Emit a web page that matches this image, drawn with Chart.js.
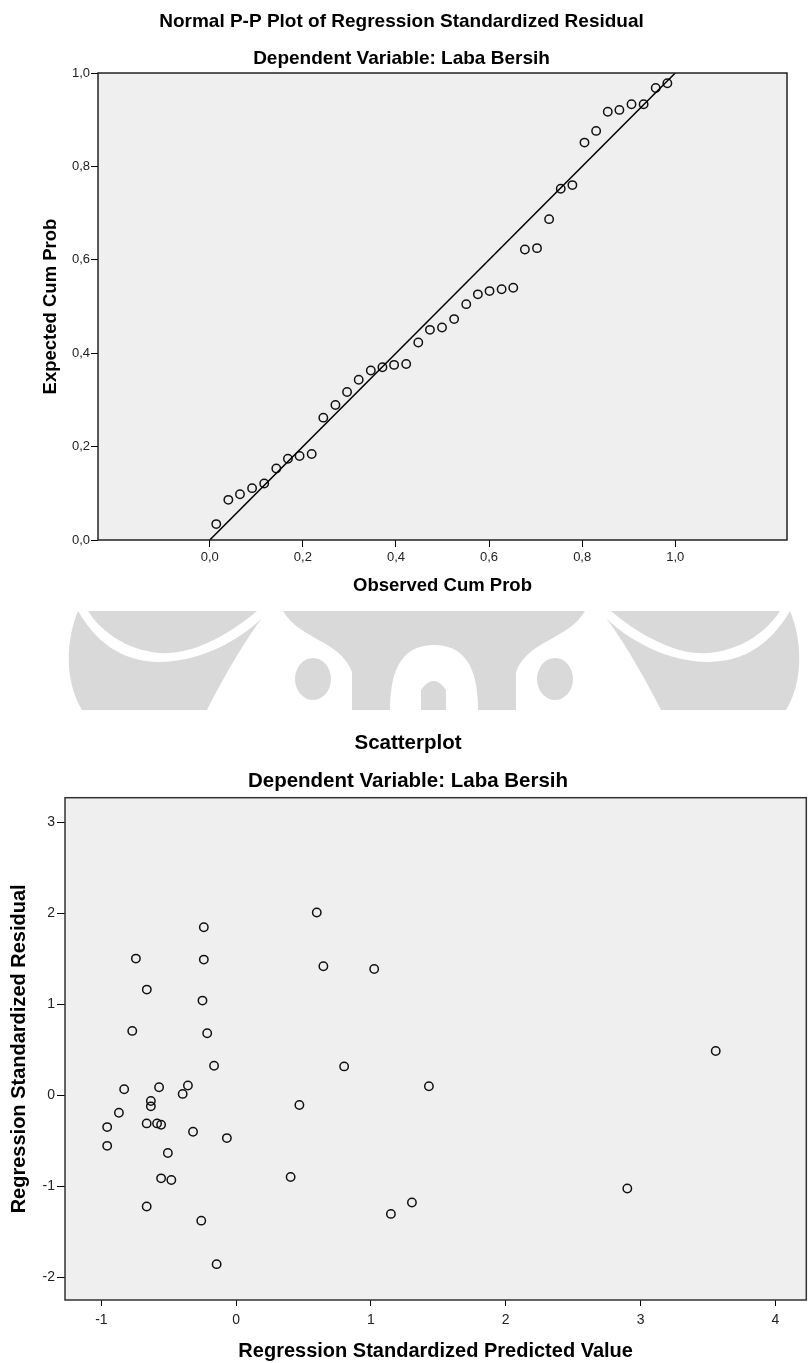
<!DOCTYPE html>
<html lang="id">
<head>
  <meta charset="UTF-8" />
  <meta name="viewport" content="width=device-width, initial-scale=1.0" />
  <title>Normal P-P Plot dan Scatterplot - Laba Bersih</title>
  <script src="https://cdn.jsdelivr.net/npm/chart.js@4.4.0/dist/chart.umd.min.js"></script>
  <style>
    html, body { margin: 0; padding: 0; background: #fff; overflow: hidden; }
    #page { position: relative; width: 809px; height: 1363px; }
    #watermark { position: absolute; left: 0; top: 0; }
    #ppChart { position: absolute; left: 0; top: 0; }
    #scatterChart { position: absolute; left: 0; top: 715px; }
  </style>
</head>

<body>
  <div id="page">
    <!-- faded logo between the two charts -->
    <svg id="watermark" width="809" height="1363">
      <path fill="#d9d9d9" d="M78,611 C66,640 64,680 82,710 L786,710 C804,680 802,640 790,611 Z" />
      <g id="wmHalf">
        <path fill="#fff" d="M88,611 C100,630 125,650 160,653 C195,656 235,630 257,611 L283,611 C300,640 340,640 352,672 L352,710 L207,710 C222,680 245,640 262,618 C240,640 200,662 160,662 C120,662 95,640 78,611 Z" />
        <ellipse cx="313" cy="679" rx="18" ry="21" fill="#d9d9d9" />
        <path fill="#fff" d="M390,710 C390,665 405,645 434,645 L434,710 Z" />
      </g>
      <use href="#wmHalf" transform="translate(868,0) scale(-1,1)" />
      <path fill="#d9d9d9" d="M421,710 L421,690 Q433.5,672 446,690 L446,710 Z" />
    </svg>

    <canvas id="ppChart" width="809" height="600"></canvas>
    <canvas id="scatterChart" width="812" height="648"></canvas>
  </div>

  <script>
    // ---- data: normal P-P plot ----
    const ppObserved = [
      0.014, 0.040, 0.065, 0.091, 0.117, 0.143, 0.168, 0.193, 0.219, 0.244,
      0.270, 0.295, 0.320, 0.346, 0.371, 0.396, 0.422, 0.448, 0.473, 0.499,
      0.525, 0.551, 0.576, 0.601, 0.627, 0.652, 0.677, 0.703, 0.729, 0.754,
      0.779, 0.805, 0.830, 0.855, 0.880, 0.906, 0.932, 0.958, 0.983,
    ];
    const ppExpected = [
      0.034, 0.086, 0.098, 0.111, 0.121, 0.153, 0.174, 0.180, 0.184, 0.262,
      0.289, 0.317, 0.343, 0.363, 0.370, 0.375, 0.377, 0.423, 0.450, 0.455,
      0.473, 0.505, 0.526, 0.533, 0.537, 0.540, 0.622, 0.625, 0.687, 0.752,
      0.760, 0.851, 0.876, 0.917, 0.921, 0.933, 0.933, 0.968, 0.978,
    ];
    const refLine = [0, 1];
    const ppTicks = [0, 0.2, 0.4, 0.6, 0.8, 1.0];

    // ---- data: scatterplot ----
    const predValues = [
      -0.957, -0.957, -0.870, -0.831, -0.771, -0.744, -0.663, -0.664, -0.664, -0.633,
      -0.633, -0.587, -0.572, -0.557, -0.557, -0.507, -0.481, -0.397, -0.358, -0.320,
      -0.259, -0.240, -0.240, -0.250, -0.215, -0.164, -0.145, -0.069, 0.404, 0.469,
      0.598, 0.647, 0.801, 1.024, 1.148, 1.304, 1.430, 2.902, 3.558,
    ];
    const residValues = [
      -0.350, -0.556, -0.192, 0.066, 0.707, 1.502, 1.161, -0.309, -1.223, -0.063,
      -0.122, -0.309, 0.088, -0.324, -0.913, -0.634, -0.932, 0.015, 0.107, -0.401,
      -1.378, 1.846, 1.491, 1.040, 0.681, 0.324, -1.856, -0.471, -0.899, -0.107,
      2.008, 1.418, 0.317, 1.388, -1.304, -1.179, 0.099, -1.024, 0.486,
    ];
    const scatterXTicks = [-1, 0, 1, 2, 3, 4];
    const scatterYTicks = [-2, -1, 0, 1, 2, 3];

    const FONT = '"Liberation Sans", Arial, sans-serif';
    const commaLabel = (v) => Number(v).toFixed(1).replace(".", ",");

    // grey plot background + frame
    const plotFrame = {
      id: "plotFrame",
      beforeDraw(chart, args, opts) {
        const { ctx, chartArea: a } = chart;
        ctx.save();
        ctx.fillStyle = opts.fill;
        ctx.fillRect(a.left, a.top, a.width, a.height);
        ctx.restore();
      },
      afterDraw(chart, args, opts) {
        const { ctx, chartArea: a } = chart;
        ctx.save();
        ctx.strokeStyle = opts.stroke;
        ctx.lineWidth = 1.5;
        ctx.strokeRect(a.left, a.top, a.width, a.height);
        ctx.restore();
      },
    };

    const ppChart = new Chart(document.getElementById("ppChart"), {
      type: "scatter",
      data: {
        datasets: [
          {
            type: "line",
            data: refLine.map((v) => ({ x: v, y: v })),
            borderColor: "#000",
            borderWidth: 1.5,
            pointRadius: 0,
            showLine: true,
            fill: false,
          },
          {
            data: ppObserved.map((v, i) => ({ x: v, y: ppExpected[i] })),
            pointRadius: 4.2,
            pointHoverRadius: 4.2,
            borderWidth: 1.5,
            borderColor: "#111",
            backgroundColor: "rgba(0,0,0,0)",
          },
        ],
      },
      options: {
        responsive: false,
        animation: false,
        layout: { padding: { left: 0, right: 6, top: 0, bottom: 0 } },
        plugins: {
          legend: { display: false },
          tooltip: { enabled: false },
          title: {
            display: true,
            text: "Normal P-P Plot of Regression Standardized Residual",
            color: "#000",
            font: { family: FONT, size: 19, weight: "bold" },
            padding: { top: 10.5, bottom: 0 },
          },
          subtitle: {
            display: true,
            text: "Dependent Variable: Laba Bersih",
            color: "#000",
            font: { family: FONT, size: 19, weight: "bold" },
            padding: { top: 14, bottom: 2.9 },
          },
          plotFrame: { fill: "#efefef", stroke: "#222" },
        },
        scales: {
          x: {
            type: "linear",
            min: -0.24,
            max: 1.24,
            afterBuildTicks: (s) => { s.ticks = ppTicks.map((v) => ({ value: v })); },
            afterFit: (s) => { s.height = 60; },
            ticks: { callback: commaLabel, color: "#222", font: { family: FONT, size: 13 }, padding: 3, maxRotation: 0, autoSkip: false },
            grid: { drawOnChartArea: false, drawTicks: true, tickLength: 7, color: "#000" },
            border: { display: false },
            title: {
              display: true,
              text: "Observed Cum Prob",
              color: "#000",
              font: { family: FONT, size: 18.5, weight: "bold" },
              padding: { top: 0, bottom: 3 },
            },
          },
          y: {
            type: "linear",
            min: 0,
            max: 1,
            afterBuildTicks: (s) => { s.ticks = ppTicks.map((v) => ({ value: v })); },
            afterFit: (s) => { s.width = 98; },
            ticks: { callback: commaLabel, color: "#222", font: { family: FONT, size: 13 }, padding: 1 },
            grid: { drawOnChartArea: false, drawTicks: true, tickLength: 7, color: "#000" },
            border: { display: false },
            title: {
              display: true,
              text: "Expected Cum Prob",
              color: "#000",
              font: { family: FONT, size: 18.5, weight: "bold" },
              padding: { top: 40, bottom: 0 },
            },
          },
          // empty strip on the right so the plot ends where the original does
          yRight: {
            type: "linear",
            position: "right",
            afterFit: (s) => { s.width = 16; },
            ticks: { display: false },
            grid: { display: false },
            border: { display: false },
          },
        },
      },
      plugins: [plotFrame],
    });

    const scatterChart = new Chart(document.getElementById("scatterChart"), {
      type: "scatter",
      data: {
        datasets: [
          {
            data: predValues.map((v, i) => ({ x: v, y: residValues[i] })),
            pointRadius: 4.2,
            pointHoverRadius: 4.2,
            borderWidth: 1.5,
            borderColor: "#111",
            backgroundColor: "rgba(0,0,0,0)",
          },
        ],
      },
      options: {
        responsive: false,
        animation: false,
        layout: { padding: { left: 4, right: 0, top: 0, bottom: 0 } },
        plugins: {
          legend: { display: false },
          tooltip: { enabled: false },
          title: {
            display: true,
            text: "Scatterplot",
            color: "#000",
            font: { family: FONT, size: 20.5, weight: "bold" },
            padding: { top: 15.7, bottom: 0 },
          },
          subtitle: {
            display: true,
            text: "Dependent Variable: Laba Bersih",
            color: "#000",
            font: { family: FONT, size: 20.5, weight: "bold" },
            padding: { top: 13.4, bottom: 4.4 },
          },
          plotFrame: { fill: "#efefef", stroke: "#333" },
        },
        scales: {
          x: {
            type: "linear",
            min: -1.27,
            max: 4.23,
            afterBuildTicks: (s) => { s.ticks = scatterXTicks.map((v) => ({ value: v })); },
            afterFit: (s) => { s.height = 63; },
            ticks: { callback: (v) => String(v), color: "#222", font: { family: FONT, size: 14 }, padding: 6, maxRotation: 0, autoSkip: false },
            grid: { drawOnChartArea: false, drawTicks: true, tickLength: 6, color: "#000" },
            border: { display: false },
            title: {
              display: true,
              text: "Regression Standardized Predicted Value",
              color: "#000",
              font: { family: FONT, size: 20, weight: "bold" },
              padding: { top: 0, bottom: 0 },
            },
          },
          y: {
            type: "linear",
            min: -2.25,
            max: 3.27,
            afterBuildTicks: (s) => { s.ticks = scatterYTicks.map((v) => ({ value: v })); },
            afterFit: (s) => { s.width = 61; },
            ticks: { callback: (v) => String(v), color: "#222", font: { family: FONT, size: 14 }, padding: 2 },
            grid: { drawOnChartArea: false, drawTicks: true, tickLength: 8, color: "#000" },
            border: { display: false },
            title: {
              display: true,
              text: "Regression Standardized Residual",
              color: "#000",
              font: { family: FONT, size: 20, weight: "bold" },
              padding: { top: 3.5, bottom: 0 },
            },
          },
        },
      },
      plugins: [plotFrame],
    });
  </script>
</body>

</html>
